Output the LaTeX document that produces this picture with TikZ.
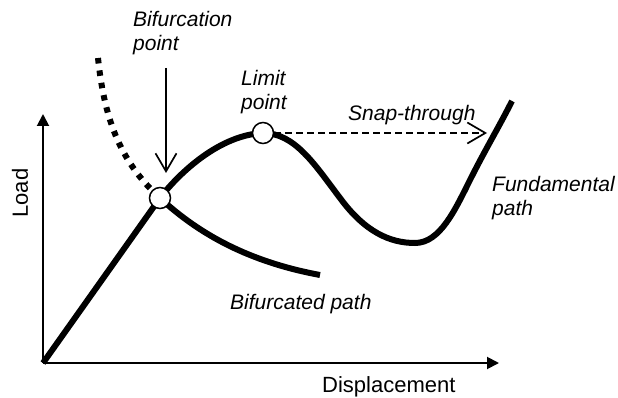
\documentclass[tikz,border=0pt]{standalone}
\usepackage{fontspec}
\setmainfont{Liberation Sans}
\usetikzlibrary{arrows.meta}
\usetikzlibrary{positioning}

\begin{document}
\begin{tikzpicture}[x=1pt,y=-1pt,
  lbl/.style={font=\fontsize{21}{24}\selectfont\itshape,inner sep=0pt,align=left,anchor=north west},
  axlbl/.style={font=\fontsize{22}{24}\selectfont,inner sep=0pt},
  axis/.style={line width=1.9pt,-{Triangle[length=12pt,width=12pt]}},
  barb/.style={line width=1.7pt,-{Straight Barb[length=18pt,width=21pt]}},
  pathline/.style={line width=6pt},
  mark circle/.style={circle,draw,line width=1.5pt,fill=white,minimum size=21pt,inner sep=0pt}]
\useasboundingbox (0,0) rectangle (618,398);

\coordinate (origin) at (43,363);
\coordinate (ytop) at (43,114);
\coordinate (xend) at (499,363);
\coordinate (bif) at (160,198);
\coordinate (lim) at (263,133);
\coordinate (top) at (512,101);

\draw[axis] (origin) -- (ytop);
\draw[axis] (origin) -- (xend);
\node[axlbl,rotate=90] (load) at (20,193) {Load};
\node[axlbl,anchor=north west] (disp) at (322,376) {Displacement};

\draw[pathline,dash pattern=on 5.5pt off 7pt] (98,58) .. controls (104,115) and (118,160) .. (bif);
\draw[pathline] (origin) -- (bif) .. controls (180,172) and (220,135) .. (lim)
  .. controls (295,133) and (315,165) .. (340,198)
  .. controls (365,232) and (390,243) .. (415,243)
  .. controls (440,243) and (455,210) .. (470,180)
  .. controls (485,150) and (500,125) .. (top);
\draw[pathline] (bif) .. controls (200,235) and (250,262) .. (320,275);

\node[mark circle] (bifpt) at (bif) {};
\node[mark circle] (limpt) at (lim) {};
\coordinate (snap) at (487,133);
\draw[barb,dash pattern=on 7pt off 4pt] (limpt) -- (snap);

\node[lbl] (biflbl) at (133,11) {Bifurcation\\point};
\coordinate (bifarrow) at (166,68);
\draw[barb] (bifarrow) -- (166,173);
\node[lbl] (limlbl) at (241,70.5) {Limit\\point};
\node[lbl] (snaplbl) at (348,105.5) {Snap-through};
\node[lbl] (fundlbl) at (492,176.5) {Fundamental\\path};
\node[lbl] (bifpath) at (230,294.5) {Bifurcated path};

\end{tikzpicture}
\end{document}
